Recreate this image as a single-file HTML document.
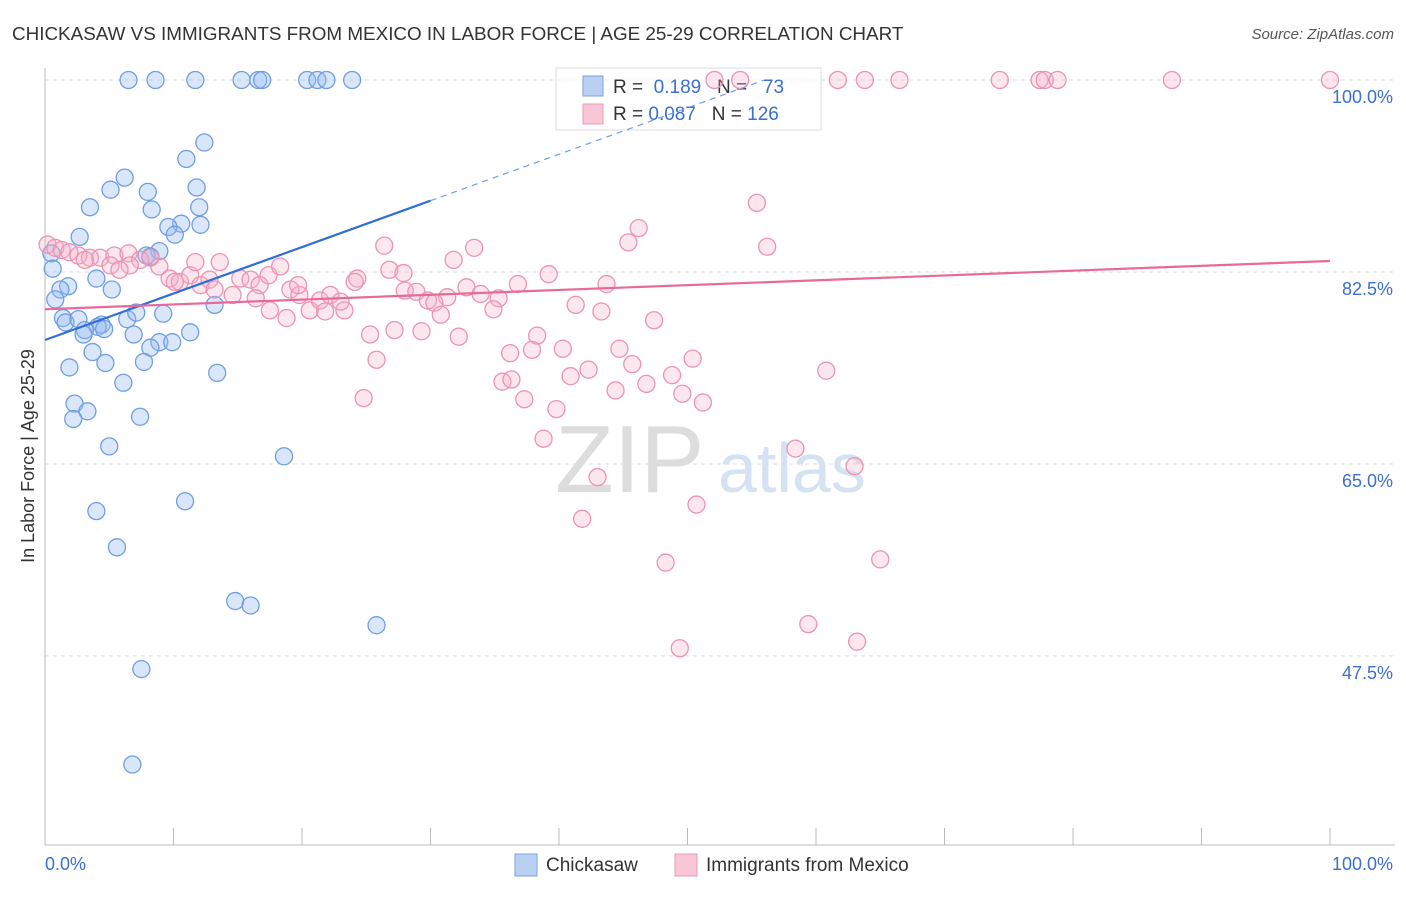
<!DOCTYPE html>
<html><head><meta charset="utf-8"><style>
body{margin:0;background:#fff;font-family:"Liberation Sans",sans-serif}
svg text{font-family:"Liberation Sans",sans-serif}
</style></head><body>
<svg width="1406" height="892" xmlns="http://www.w3.org/2000/svg">
<text x="12" y="40" font-size="18.85" fill="#333">CHICKASAW VS IMMIGRANTS FROM MEXICO IN LABOR FORCE | AGE 25-29 CORRELATION CHART</text>
<text x="1394" y="39" font-size="15" fill="#555" font-style="italic" text-anchor="end">Source: ZipAtlas.com</text>
<text x="555" y="492" font-size="96" fill="#ddd" font-family="Liberation Serif">ZIP</text>
<text x="718" y="492" font-size="70" fill="#d5e2f3">atlas</text>
<g id="grid"></g>
<g id="axes"></g>
<g>
<rect x="556" y="68" width="265" height="62" fill="#fff" fill-opacity="0.6" stroke="#ddd"/>
<rect x="583" y="76" width="20" height="20" fill="#b9d0f3" stroke="#7aa3e6"/>
<rect x="583" y="104" width="20" height="20" fill="#f8c6d5" stroke="#eb9ab5"/>
<text x="613" y="93" font-size="19" fill="#333">R = <tspan fill="#3b6fd0">&#160;0.189</tspan>&#160;&#160;&#160;N = <tspan fill="#3b6fd0">&#160;&#160;73</tspan></text>
<text x="613" y="120" font-size="19" fill="#333">R = <tspan fill="#3b6fd0">0.087</tspan>&#160;&#160;&#160;N = <tspan fill="#3b6fd0">126</tspan></text>
</g>
<g id="pts"></g>
<g id="trends"></g>
<text transform="translate(34,456) rotate(-90)" font-size="18" fill="#333" text-anchor="middle">In Labor Force | Age 25-29</text>
<text x="45" y="870" font-size="18" fill="#3b6fd0">0.0%</text>
<text x="1393" y="870" font-size="18" fill="#3b6fd0" text-anchor="end">100.0%</text>
<g>
<rect x="515" y="854" width="22" height="22" fill="#b9d0f3" stroke="#7aa3e6"/>
<text x="546" y="871" font-size="19" fill="#333">Chickasaw</text>
<rect x="675" y="854" width="22" height="22" fill="#f8c6d5" stroke="#eb9ab5"/>
<text x="706" y="871" font-size="19" fill="#333">Immigrants from Mexico</text>
</g>
</svg>
<script>
const yTicks=[100,82.5,65,47.5];
const yTickLabels=["100.0%","82.5%","65.0%","47.5%"];
const xTicks=[0,10,20,30,40,50,60,70,80,90,100];
const blueX=[6.5,8.6,11.7,15.3,16.6,16.9,20.4,21.2,21.9,23.9,12.4,11.0,6.2,5.1,8.0,11.8,3.5,8.3,12.0,10.6,9.6,12.1,10.1,2.7,8.9,7.9,8.2,0.5,0.6,4.0,5.2,1.8,1.2,0.8,1.4,1.6,2.6,6.4,7.1,9.2,4.4,4.1,4.6,3.1,3.0,6.9,11.3,13.2,8.9,8.2,9.9,3.7,4.7,7.7,1.9,13.4,6.1,2.3,3.3,2.2,7.4,5.0,18.6,10.9,4.0,5.6,14.8,16.0,25.8,7.5,6.8];
const blueY=[100,100,100,100,100,100,100,100,100,100,94.3,92.8,91.1,90.0,89.8,90.2,88.4,88.2,88.4,86.9,86.6,86.8,85.9,85.7,84.4,84.0,83.9,84.2,82.8,81.9,80.9,81.2,80.9,80.0,78.3,77.9,78.2,78.2,78.8,78.7,77.7,77.5,77.3,77.2,76.8,76.8,77.0,79.5,76.1,75.6,76.1,75.2,74.2,74.3,73.8,73.3,72.4,70.5,69.8,69.1,69.3,66.6,65.7,61.6,60.7,57.4,52.5,52.1,50.3,46.3,37.6];
const pinkX=[52.1,54.1,61.7,63.8,66.5,74.3,77.4,77.8,78.8,87.7,100,55.4,46.2,45.4,56.2,33.4,26.4,31.8,39.2,36.8,43.7,26.8,27.9,24.3,28.0,28.9,32.8,33.9,35.3,31.3,29.8,30.3,34.9,30.8,41.3,43.3,47.4,38.3,36.2,40.3,44.7,50.4,25.8,37.9,42.3,40.9,45.7,60.8,48.8,46.8,35.6,36.3,44.4,49.6,51.2,37.3,39.8,24.8,38.8,58.4,63.0,43.0,50.7,41.8,65.0,48.3,59.4,63.2,49.4,29.3,27.2,25.3,32.2,
0.2,0.8,1.3,1.9,2.6,3.5,4.3,5.4,6.5,7.4,8.2,8.9,9.7,10.5,11.3,12.1,12.8,13.6,14.6,15.2,16.0,16.7,17.4,18.3,19.1,19.8,20.6,21.4,22.2,23.3,5.1,6.6,3.1,11.7,13.2,16.4,17.5,18.8,21.8,23.0,24.1,19.7,10.1,5.8];
const pinkY=[100,100,100,100,100,100,100,100,100,100,100,88.8,86.5,85.2,84.8,84.7,84.9,83.6,82.3,81.4,81.4,82.7,82.4,81.9,80.8,80.7,81.1,80.5,80.1,80.2,79.9,79.7,79.1,78.6,79.5,78.9,78.1,76.7,75.1,75.5,75.5,74.6,74.5,75.4,73.6,73.0,74.1,73.5,73.1,72.3,72.5,72.7,71.7,71.4,70.6,70.9,70.0,71.0,67.3,66.4,64.8,63.8,61.3,60.0,56.3,56.0,50.4,48.8,48.2,77.1,77.2,76.8,76.6,
85.0,84.7,84.5,84.3,84.0,83.8,83.8,84.0,84.2,83.6,83.8,83.0,81.9,81.6,82.2,81.3,81.8,83.4,80.4,81.9,81.8,81.3,82.2,83.0,80.9,80.4,79.0,79.9,80.4,79.0,83.1,83.1,83.6,83.4,80.9,80.1,79.0,78.3,78.9,79.8,81.6,81.3,81.6,82.7];
const blueTrend=[76.3,89.0]; // y at x=0 and x=30
const pinkTrend=[79.1,83.5]; // y at x=0 and x=100
const NS="http://www.w3.org/2000/svg";
const sx=v=>45+v*12.85, sy=v=>80+(100-v)*10.97;
function mk(tag,attrs,parent){const e=document.createElementNS(NS,tag);for(const k in attrs)e.setAttribute(k,attrs[k]);document.getElementById(parent).appendChild(e);return e;}
yTicks.forEach((t,i)=>{
 const l=mk('line',{x1:45,x2:1395,y1:sy(t),y2:sy(t),stroke:'#ddd','stroke-dasharray':'4,4'},'grid');
 
 
 const tx=mk('text',{x:1393,y:sy(t)+23,'font-size':18,fill:'#3b6fd0','text-anchor':'end'},'grid');
 tx.textContent=yTickLabels[i];
 
 
});
const xa=mk('line',{x1:45,x2:1395,y1:845,y2:845,stroke:'#bbb'},'axes');


const ya=mk('line',{x1:45,x2:45,y1:68,y2:845,stroke:'#bbb'},'axes');


xTicks.forEach(t=>{
 const l=mk('line',{x1:sx(t),x2:sx(t),y1:828,y2:845,stroke:'#bbb'},'axes');
 
 
});
blueX.forEach((x,i)=>{
 const c=mk('circle',{cx:sx(x),cy:sy(blueY[i]),r:8.5,fill:'rgba(150,185,240,0.35)',stroke:'#6f9fe3','stroke-width':1.3},'pts');
 
 
});
pinkX.forEach((x,i)=>{
 const c=mk('circle',{cx:sx(x),cy:sy(pinkY[i]),r:8.5,fill:'rgba(245,175,200,0.3)',stroke:'#ec93b2','stroke-width':1.3},'pts');
 
 
});
const bs=(blueTrend[1]-blueTrend[0])/30;
const b1=mk('line',{x1:sx(0),y1:sy(blueTrend[0]),x2:sx(30),y2:sy(blueTrend[1]),stroke:'#2f6fd6','stroke-width':2.2},'trends');


const xe=(100-blueTrend[0])/bs;
const b2=mk('line',{x1:sx(30),y1:sy(blueTrend[1]),x2:sx(xe),y2:sy(100),stroke:'#6f9fe3','stroke-width':1.2,'stroke-dasharray':'6,5'},'trends');


const p1=mk('line',{x1:sx(0),y1:sy(pinkTrend[0]),x2:sx(100),y2:sy(pinkTrend[1]),stroke:'#e8699a','stroke-width':2.2},'trends');


</script>
</body></html>
